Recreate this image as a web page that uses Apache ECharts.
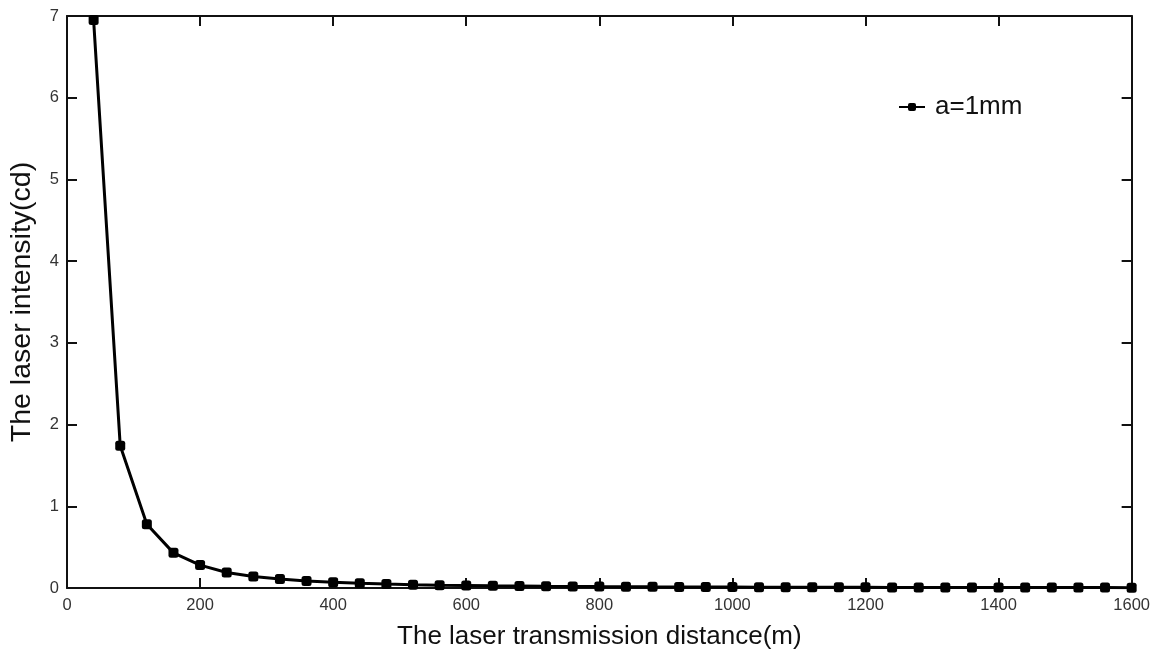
<!DOCTYPE html>
<html>
<head>
<meta charset="utf-8">
<script src="https://cdn.jsdelivr.net/npm/echarts@6/dist/echarts.min.js"></script>
<style>html,body{margin:0;padding:0;background:#fff}#c{width:1153px;height:655px}</style>
</head>
<body>
<div id="c"></div>
<script>
const distances = [40,80,120,160,200,240,280,320,360,400,440,480,520,560,600,640,680,720,760,800,840,880,920,960,1000,1040,1080,1120,1160,1200,1240,1280,1320,1360,1400,1440,1480,1520,1560,1600];
const intensity = [6.95,1.74,0.78,0.43,0.28,0.19,0.14,0.11,0.086,0.07,0.057,0.048,0.041,0.035,0.031,0.027,0.024,0.021,0.019,0.017,0.016,0.014,0.013,0.012,0.011,0.010,0.0095,0.0089,0.0083,0.0077,0.0072,0.0068,0.0064,0.006,0.0057,0.0054,0.0051,0.0048,0.0046,0.0043];
const seriesName = 'a=1mm';
const xTitle = 'The laser transmission distance(m)';
const yTitle = 'The laser intensity(cd)';

const chart = echarts.init(document.getElementById('c'));
const FONT = 'Liberation Sans, Arial, sans-serif';
const axisFont = {color:'#333', fontSize:16.5, fontFamily:FONT};
const lineStyle = {color:'#111', width:2};
const common = {
  axisLine:{show:true, onZero:false, lineStyle:lineStyle},
  axisTick:{show:true, inside:true, length:10, lineStyle:lineStyle},
  splitLine:{show:false}
};
chart.setOption({
  animation:false,
  backgroundColor:'#fff',
  grid:{left:66, right:21, top:16, bottom:66, containLabel:false},
  legend:{
    data:[seriesName], left:893, top:89, itemWidth:26, itemHeight:10,
    textStyle:{fontSize:26, color:'#111', fontFamily:FONT, padding:[0,0,0,5]}
  },
  xAxis:[
    Object.assign({type:'value', min:0, max:1600, interval:200, position:'bottom',
      name:xTitle, nameLocation:'middle', nameGap:36,
      nameTextStyle:{fontSize:26, color:'#111', fontFamily:FONT},
      axisLabel:Object.assign({margin:9, formatter:v=>String(v)}, axisFont)}, common),
    Object.assign({type:'value', min:0, max:1600, interval:200, position:'top',
      axisLabel:{show:false}}, common)
  ],
  yAxis:[
    Object.assign({type:'value', min:0, max:7, interval:1, position:'left',
      name:yTitle, nameLocation:'middle', nameGap:30,
      nameTextStyle:{fontSize:28.5, color:'#111', fontFamily:FONT},
      axisLabel:Object.assign({margin:8, formatter:v=>String(v)}, axisFont)}, common),
    Object.assign({type:'value', min:0, max:7, interval:1, position:'right',
      axisLabel:{show:false}}, common)
  ],
  series:[{
    name:seriesName, type:'line', xAxisIndex:0, yAxisIndex:0,
    data:distances.map((d,i)=>[d,intensity[i]]),
    symbol:'roundRect', symbolSize:10, showSymbol:true,
    lineStyle:{color:'#000', width:3},
    itemStyle:{color:'#000'},
    clip:true
  }]
});
</script>
</body>
</html>
